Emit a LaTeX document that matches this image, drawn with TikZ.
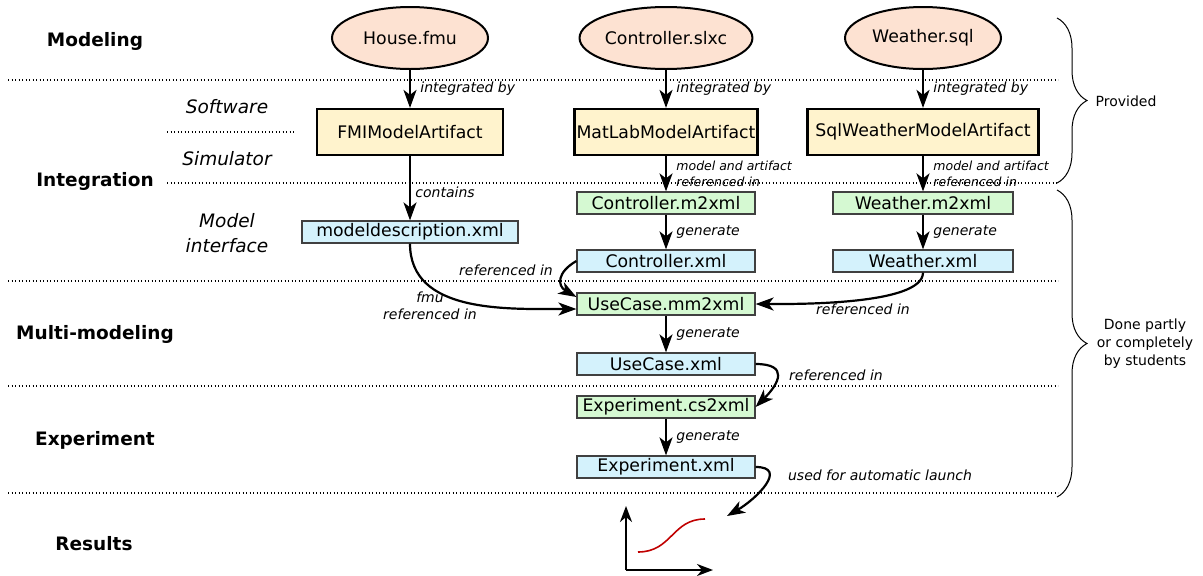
\documentclass[tikz,border=0pt]{standalone}
\usepackage{fontspec}
\setmainfont{DejaVu Sans}
\usetikzlibrary{positioning,shapes.geometric,arrows.meta,decorations.pathreplacing}

\definecolor{modelfill}{RGB}{253,226,210}
\definecolor{artifactfill}{RGB}{255,243,205}
\definecolor{genfill}{RGB}{213,249,210}
\definecolor{xmlfill}{RGB}{212,242,252}
\definecolor{curvered}{RGB}{192,0,0}

\newcommand{\nodefont}{\fontsize{17.3}{20}\selectfont}
\newcommand{\edgefont}{\fontsize{14}{17}\selectfont\itshape}
\newcommand{\smallfont}{\fontsize{12.5}{16}\selectfont\itshape}
\newcommand{\layerfont}{\fontsize{18.5}{22}\selectfont\bfseries}
\newcommand{\subfont}{\fontsize{18.5}{25}\selectfont\itshape}
\newcommand{\notefont}{\fontsize{14}{18}\selectfont}

\begin{document}
\begin{tikzpicture}[x=1pt, y=1pt, nodes = {align = center},
    model/.style = {ellipse, draw, line width=2pt, fill=modelfill, minimum width=156pt, minimum height=62pt, inner sep=0pt, font=\nodefont},
    artifact/.style = {rectangle, draw, line width=2.2pt, fill=artifactfill, minimum height=46pt, inner sep=2pt, font=\nodefont},
    genfile/.style = {rectangle, draw=black!75, line width=1.2pt, fill=genfill, minimum width=178pt, minimum height=22pt, inner sep=0pt, font=\nodefont},
    xmlfile/.style = {genfile, fill=xmlfill},
    layer/.style = {font=\layerfont},
    sublayer/.style = {font=\subfont},
    lbl/.style = {font=\edgefont},
    arr/.style = {-{Stealth[length=18pt,width=13pt,inset=5pt]}, line width=2.2pt},
    axis/.style = {-{Stealth[length=16pt,width=12pt,inset=5pt]}, line width=2.2pt},
    sep/.style = {dash pattern=on 1.2pt off 2.3pt, line width=1.2pt},
    group/.style = {decorate, decoration={brace, amplitude=30pt}, line width=1pt}]
    \useasboundingbox (0,0) rectangle (1203,-576);

    % layers
    \node (modeling) [layer] at (95,-41) {Modeling};
    \node (integration) [layer] at (95,-181) {Integration};
    \node (multi) [layer] at (95,-334) {Multi-modeling};
    \node (experiment) [layer] at (95,-440) {Experiment};
    \node (results) [layer] at (94,-544) {Results};
    \node (software) [sublayer] at (227,-107) {Software};
    \node (simulator) [sublayer] at (227,-159) {Simulator};
    \node (interface) [sublayer] at (227,-233) {Model\\interface};
    \foreach \y in {80,281,386,493}
      \draw[sep] (8,-\y) -- (1058,-\y);
    \draw[sep] (167,-132) -- (295,-132);
    \draw[sep] (167,-183) -- (1058,-183);

    % models
    \node (house) [model] at (410,-38) {House.fmu};
    \node (ctrl) [model] at (666,-38) {Controller.slxc};
    \node (weather) [model] at (923,-38) {Weather.sql};
    \node (fmi) [artifact, minimum width=186pt] at (410,-132) {FMIModelArtifact};
    \node (matlab) [artifact, minimum width=183pt] at (666,-132) {MatLabModelArtifact};
    \node (sqlw) [artifact, minimum width=231pt] at (923,-132) {SqlWeatherModelArtifact};

    % files
    \node (mdesc) [xmlfile, minimum width=216pt] at (410,-232) {modeldescription.xml};
    \node (ctrlm) [genfile] at (666,-203) {Controller.m2xml};
    \node (ctrlx) [xmlfile] at (666,-261) {Controller.xml};
    \node (weatherm) [genfile, minimum width=180pt] at (923,-203) {Weather.m2xml};
    \node (weatherx) [xmlfile, minimum width=180pt] at (923,-261) {Weather.xml};
    \node (usecasem) [genfile] at (666,-304) {UseCase.mm2xml};
    \node (usecasex) [xmlfile] at (666,-364) {UseCase.xml};
    \node (expm) [genfile] at (666,-407) {Experiment.cs2xml};
    \node (expx) [xmlfile] at (666,-467) {Experiment.xml};

    % results
    \coordinate (origin) at (626,-570);
    \coordinate (launch) at (727,-516);
    \draw[axis] (origin) -- ++(0,64);
    \draw[axis] (origin) -- ++(87,0);
    \draw[curvered, line width=1.6pt] (638,-552) .. controls (672,-552) and (672,-519) .. (705,-519);

    \draw[arr] (house) -- node[lbl, right=6pt] {integrated by} (fmi);
    \draw[arr] (ctrl) -- node[lbl, right=6pt] {integrated by} (matlab);
    \draw[arr] (weather) -- node[lbl, right=6pt] {integrated by} (sqlw);
    \draw[arr] (fmi) -- node[lbl, right=1pt, pos=0.57] {contains} (mdesc);
    \draw[arr] (matlab) -- node[font=\smallfont, align=left, right=6pt] {model and artifact\\referenced in} (ctrlm);
    \draw[arr] (sqlw) -- node[font=\smallfont, align=left, right=6pt] {model and artifact\\referenced in} (weatherm);
    \draw[arr] (ctrlm) -- node[lbl, right=6pt] {generate} (ctrlx);
    \draw[arr] (weatherm) -- node[lbl, right=6pt] {generate} (weatherx);
    \draw[arr] (usecasem) -- node[lbl, right=6pt] {generate} (usecasex);
    \draw[arr] (expm) -- node[lbl, right=6pt] {generate} (expx);

    \draw[arr] (mdesc.south) to[out=-90, in=180] ([yshift=-5pt]usecasem.west);
    \node (fmuref) [lbl] at (430,-306) {fmu\\referenced in};
    \draw[arr] (ctrlx.west) to[out=210, in=150, looseness=1.6] ([yshift=7pt]usecasem.west);
    \node (ctrlref) [lbl] at (506,-270) {referenced in};
    \draw[arr] (weatherx.south) to[out=-90, in=0, looseness=0.5] (usecasem.east);
    \node (weatherref) [lbl] at (863,-309) {referenced in};
    \draw[arr] (usecasex.east) to[out=0, in=45, looseness=2] (expm.east);
    \node (usecaseref) [lbl] at (836,-375) {referenced in};
    \draw[arr] (expx.east) to[out=0, in=30, looseness=1.5] (launch);
    \node (launchref) [lbl] at (880,-475) {used for automatic launch};

    % groups
    \draw[group] (1057,-18) -- (1057,-183);
    \node (provided) [font=\notefont] at (1126,-101) {Provided};
    \draw[group] (1057,-190) -- (1057,-497);
    \node (students) [font=\notefont] at (1145,-344) {Done partly\\or completely\\by students};
\end{tikzpicture}
\end{document}
